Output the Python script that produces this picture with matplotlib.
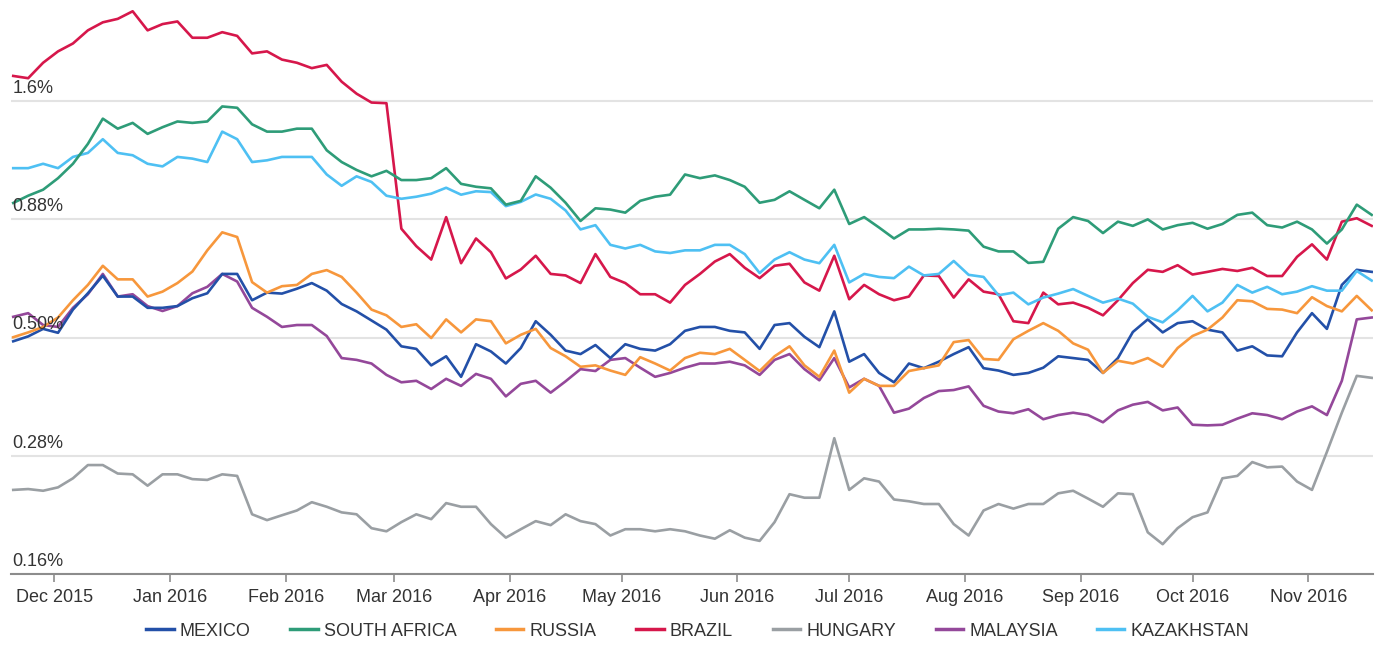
import datetime as dt
import matplotlib
matplotlib.use("Agg")
import matplotlib.pyplot as plt
import matplotlib.dates as mdates
from matplotlib.lines import Line2D

plt.rcParams['font.family'] = ['Liberation Sans', 'DejaVu Sans']

# ---- data (percent), sampled every 4 days from 2015-11-20 ----
start_date = dt.date(2015, 11, 20)
step_days = 4

mexico = [0.497, 0.509, 0.528, 0.518, 0.58, 0.628, 0.684, 0.618, 0.618, 0.585, 0.585, 0.59, 0.613, 0.628, 0.69, 0.69,
          0.607, 0.63, 0.627, 0.642, 0.66, 0.636, 0.596, 0.575, 0.55, 0.526, 0.485, 0.479, 0.442, 0.462, 0.418,
          0.49, 0.473, 0.446, 0.481, 0.548, 0.513, 0.475, 0.467, 0.488, 0.458, 0.49, 0.479, 0.475, 0.49, 0.523,
          0.533, 0.533, 0.523, 0.519, 0.479, 0.538, 0.543, 0.508, 0.483, 0.575, 0.45, 0.467, 0.426, 0.407, 0.446, 0.436,
          0.45, 0.467, 0.483, 0.436, 0.431, 0.422, 0.426, 0.437, 0.462, 0.458, 0.454, 0.426, 0.458, 0.52, 0.553,
          0.519, 0.543, 0.548, 0.526, 0.519, 0.475, 0.485, 0.464, 0.462, 0.519, 0.57, 0.528, 0.654, 0.704, 0.697]

south_africa = [0.975, 1.01, 1.04, 1.10, 1.18, 1.30, 1.47, 1.40, 1.44, 1.365, 1.41, 1.45, 1.44, 1.45, 1.56, 1.55,
                1.43, 1.38, 1.38, 1.40, 1.40, 1.26, 1.19, 1.145, 1.11, 1.14, 1.09, 1.09, 1.10, 1.155, 1.07,
                1.055, 1.047, 0.967, 0.985, 1.11, 1.05, 0.976, 0.893, 0.95, 0.944, 0.93, 0.985, 1.005, 1.015, 1.12,
                1.10, 1.115, 1.09, 1.055, 0.976, 0.99, 1.032, 0.99, 0.95, 1.04, 0.88, 0.91, 0.865, 0.82, 0.857, 0.857,
                0.86, 0.857, 0.852, 0.788, 0.77, 0.77, 0.728, 0.732, 0.86, 0.91, 0.893, 0.842, 0.89, 0.872, 0.90,
                0.857, 0.875, 0.885, 0.86, 0.88, 0.92, 0.93, 0.875, 0.865, 0.89, 0.857, 0.80, 0.857, 0.967, 0.92]

russia = [0.507, 0.519, 0.533, 0.558, 0.607, 0.654, 0.718, 0.672, 0.672, 0.618, 0.633, 0.66, 0.698, 0.774, 0.845, 0.826,
          0.663, 0.63, 0.65, 0.654, 0.69, 0.703, 0.68, 0.63, 0.58, 0.564, 0.533, 0.54, 0.505, 0.553, 0.519,
          0.553, 0.548, 0.492, 0.513, 0.528, 0.481, 0.462, 0.439, 0.442, 0.431, 0.422, 0.46, 0.446, 0.431, 0.458,
          0.47, 0.467, 0.479, 0.454, 0.43, 0.462, 0.485, 0.442, 0.418, 0.475, 0.387, 0.414, 0.40, 0.40, 0.43, 0.436,
          0.442, 0.495, 0.50, 0.456, 0.454, 0.502, 0.523, 0.543, 0.523, 0.492, 0.477, 0.426, 0.452, 0.446, 0.458,
          0.439, 0.481, 0.51, 0.526, 0.558, 0.607, 0.604, 0.582, 0.58, 0.57, 0.616, 0.59, 0.575, 0.62, 0.578]

brazil = [1.81, 1.79, 1.93, 2.04, 2.12, 2.26, 2.35, 2.39, 2.48, 2.26, 2.33, 2.36, 2.18, 2.18, 2.24, 2.20,
          2.02, 2.04, 1.96, 1.93, 1.88, 1.91, 1.76, 1.66, 1.59, 1.585, 0.86, 0.79, 0.74, 0.91, 0.727,
          0.82, 0.767, 0.675, 0.705, 0.754, 0.69, 0.685, 0.66, 0.76, 0.68, 0.66, 0.625, 0.625, 0.60, 0.654,
          0.69, 0.733, 0.76, 0.711, 0.676, 0.718, 0.725, 0.662, 0.636, 0.754, 0.61, 0.654, 0.625, 0.607, 0.618, 0.685,
          0.683, 0.615, 0.672, 0.633, 0.625, 0.548, 0.543, 0.63, 0.595, 0.60, 0.585, 0.564, 0.607, 0.66, 0.704,
          0.697, 0.72, 0.688, 0.697, 0.707, 0.70, 0.711, 0.683, 0.683, 0.75, 0.797, 0.74, 0.89, 0.905, 0.872]

hungary = [0.241, 0.242, 0.24, 0.244, 0.255, 0.272, 0.272, 0.261, 0.26, 0.246, 0.26, 0.26, 0.254, 0.253, 0.26, 0.258,
           0.214, 0.208, 0.213, 0.218, 0.227, 0.222, 0.216, 0.214, 0.20, 0.197, 0.206, 0.214, 0.209, 0.226, 0.222,
           0.222, 0.204, 0.191, 0.199, 0.207, 0.203, 0.214, 0.207, 0.204, 0.193, 0.199, 0.199, 0.197, 0.199, 0.197,
           0.193, 0.19, 0.198, 0.191, 0.188, 0.206, 0.236, 0.232, 0.232, 0.31, 0.241, 0.255, 0.251, 0.23, 0.228, 0.225,
           0.225, 0.204, 0.193, 0.218, 0.225, 0.22, 0.225, 0.225, 0.237, 0.24, 0.231, 0.222, 0.237, 0.236, 0.196,
           0.185, 0.20, 0.211, 0.216, 0.255, 0.258, 0.276, 0.269, 0.27, 0.251, 0.241, 0.29, 0.351, 0.42, 0.416]

malaysia = [0.56, 0.57, 0.538, 0.533, 0.585, 0.625, 0.69, 0.618, 0.625, 0.59, 0.576, 0.59, 0.628, 0.648, 0.69, 0.665,
            0.585, 0.56, 0.533, 0.538, 0.538, 0.51, 0.458, 0.454, 0.446, 0.422, 0.407, 0.41, 0.394, 0.414, 0.40,
            0.424, 0.414, 0.38, 0.404, 0.41, 0.387, 0.409, 0.434, 0.43, 0.454, 0.458, 0.437, 0.418, 0.426, 0.437,
            0.446, 0.446, 0.45, 0.442, 0.422, 0.454, 0.467, 0.434, 0.411, 0.458, 0.397, 0.414, 0.40, 0.351, 0.358, 0.377,
            0.39, 0.392, 0.399, 0.363, 0.353, 0.35, 0.357, 0.34, 0.347, 0.351, 0.347, 0.335, 0.355, 0.365, 0.37,
            0.355, 0.36, 0.331, 0.33, 0.331, 0.341, 0.35, 0.347, 0.34, 0.353, 0.362, 0.347, 0.41, 0.553, 0.558]

kazakhstan = [1.155, 1.155, 1.18, 1.155, 1.22, 1.244, 1.33, 1.244, 1.23, 1.18, 1.165, 1.22, 1.21, 1.19, 1.38, 1.33,
              1.19, 1.20, 1.22, 1.22, 1.22, 1.12, 1.06, 1.11, 1.08, 1.01, 0.995, 1.005, 1.02, 1.05, 1.015,
              1.032, 1.028, 0.96, 0.98, 1.016, 0.995, 0.94, 0.857, 0.875, 0.795, 0.781, 0.795, 0.77, 0.764, 0.774,
              0.774, 0.795, 0.795, 0.76, 0.693, 0.74, 0.767, 0.74, 0.727, 0.795, 0.662, 0.69, 0.68, 0.676, 0.715, 0.685,
              0.69, 0.735, 0.687, 0.68, 0.622, 0.63, 0.595, 0.615, 0.627, 0.641, 0.62, 0.60, 0.612, 0.597, 0.56,
              0.545, 0.578, 0.62, 0.575, 0.60, 0.654, 0.63, 0.648, 0.625, 0.633, 0.65, 0.636, 0.636, 0.70, 0.668]

series_names = ["MEXICO", "SOUTH AFRICA", "RUSSIA", "BRAZIL", "HUNGARY", "MALAYSIA", "KAZAKHSTAN"]
series_values = [mexico, south_africa, russia, brazil, hungary, malaysia, kazakhstan]
series_colors = ["#2350a8", "#2e9c78", "#f7973c", "#d6174b", "#9a9fa3", "#94489a", "#4ec0f3"]

ytick_values = [0.16, 0.2845, 0.506, 0.8998, 1.6]
ytick_labels = ["0.16%", "0.28%", "0.50%", "0.88%", "1.6%"]

dates = [start_date + dt.timedelta(days=step_days * i) for i in range(len(mexico))]

# ---- figure ----
W, H = 1380, 646
fig = plt.figure(figsize=(W / 100, H / 100), dpi=100)
ax = fig.add_axes([11 / W, 72 / H, 1362 / W, 574 / H])

draw_order = [4, 5, 0, 2, 3, 6, 1]
for i in draw_order:
    ax.plot(dates, series_values[i], color=series_colors[i], lw=1.9, solid_joinstyle='round', zorder=3)

ax.set_yscale('log')
ax.set_ylim(0.16, 2.62)
ax.set_yticks(ytick_values)
ax.yaxis.set_minor_locator(matplotlib.ticker.NullLocator())
ax.set_yticklabels([])
ax.tick_params(axis='y', length=0)
ax.yaxis.grid(True, color='#e3e3e3', lw=1.5)
ax.set_axisbelow(True)

for v, lab in zip(ytick_values, ytick_labels):
    ax.annotate(lab, xy=(0, v), xycoords=('axes fraction', 'data'), xytext=(1, 3),
                textcoords='offset points', ha='left', va='bottom', fontsize=13,
                color='#333333', zorder=5)

x0 = mdates.date2num(dt.date(2015, 12, 1))
ax.set_xlim(x0 - 11.6, x0 + 353.35)
ax.xaxis.set_major_locator(mdates.MonthLocator())
ax.xaxis.set_major_formatter(mdates.DateFormatter('%b %Y'))
ax.tick_params(axis='x', length=6, width=1.2, color='#8c8c8c', labelsize=13,
               labelcolor='#333333', pad=5)

for s in ['left', 'right', 'top']:
    ax.spines[s].set_visible(False)
ax.spines['bottom'].set_color('#8c8c8c')
ax.spines['bottom'].set_linewidth(1.5)

handles = [Line2D([0], [0], color=c, lw=2.5) for c in series_colors]
fig.legend(handles, series_names, loc='center', bbox_to_anchor=(698 / W, 1 - 631 / H),
           ncol=7, frameon=False, fontsize=13, handlelength=1.5, handletextpad=0.35,
           columnspacing=2.2, labelcolor='#333333')

fig.savefig('out.png', dpi=100)
